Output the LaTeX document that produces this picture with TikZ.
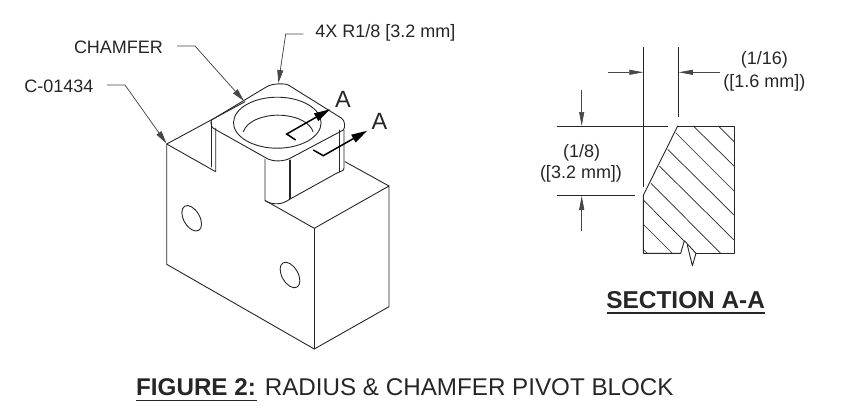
\documentclass[tikz,border=0pt]{standalone}
\usepackage{fontspec}
\setmainfont{Liberation Sans}
\usetikzlibrary{arrows.meta}
\definecolor{ink}{HTML}{262626}
\tikzset{
  part/.style={draw=ink,line width=0.9pt,line join=round,line cap=round},
  thin part/.style={draw=ink,line width=0.7pt},
  leader/.style={draw=ink!85,line width=0.75pt,-{Triangle[length=13pt,width=6pt]}},
  dim/.style={draw=ink!85,line width=0.7pt,-{Triangle[length=14pt,width=5pt]}},
  cut/.style={draw=black,line width=1.5pt,-{Triangle[length=16pt,width=8.5pt]}},
  label/.style={font=\fontsize{18}{21}\selectfont,text=ink,inner sep=0pt},
  dimtext/.style={font=\fontsize{18}{21}\selectfont,text=ink,inner sep=0pt},
  big/.style={font=\fontsize{23.5}{26}\selectfont,text=ink,inner sep=0pt},
  rule/.style={draw=ink,line width=1.6pt}
}
\begin{document}
\begin{tikzpicture}[x=1pt,y=-1pt]
\useasboundingbox (0,0) rectangle (847,418);
% labels
\node[label] (chamfer) at (118.5,47) {CHAMFER};
\node[label] (part) at (59,86.5) {C-01434};
\node[label] (radius) at (385.3,33) {4X R1/8 [3.2 mm]};
\node[big] (a1) at (343,99) {A};
\node[big] (a2) at (379.5,121) {A};
% leaders
\coordinate (chamferA) at (177,46);
\coordinate (chamferB) at (195,46);
\coordinate (chamferT) at (244,101);
\coordinate (partA) at (107,85);
\coordinate (partB) at (125,85);
\coordinate (partT) at (166.5,143.5);
\coordinate (radA) at (303.3,34);
\coordinate (radB) at (285.7,34);
\coordinate (radT) at (278.4,83);
\draw[leader] (chamferA) -- (chamferB) -- (chamferT);
\draw[leader] (partA) -- (partB) -- (partT);
\draw[leader] (radA) -- (radB) -- (radT);
% block outline
\draw[part] (245,101.7) -- (166.7,144) -- (166.7,264.3) -- (314.3,349) -- (389,306.7) -- (389,186) -- (314.3,228.3) -- (265.5,200.7);
\draw[part] (314.3,228.3) -- (314.3,349);
\draw[part] (389,186) -- (345,161.7);
\draw[part] (166.7,144) -- (215.7,171.7) -- (215.7,128);
\draw[part] (211,122) -- (211,167);
% raised rounded top
\draw[part] (211.5,120) -- (266.7,86.7)
  .. controls (272,83.5) and (284,83) .. (288.3,85)
  -- (341.7,118.3)
  .. controls (345,120.5) and (345.5,127.5) .. (343.3,130)
  -- (290,158.3)
  .. controls (284,161.5) and (273,162) .. (266.7,158.3)
  -- (213.3,128.3)
  .. controls (211,126.5) and (210.5,122) .. (211.5,120);
% column
\draw[part] (265,159) -- (265,200.7) .. controls (272,205) and (282,205) .. (289.3,199.5) -- (337,173) .. controls (341,171) and (344,171) .. (344,168) -- (344,130);
\draw[part] (289.3,160) -- (289.3,199.5);
\draw[part] (290.6,160) -- (290.6,198.5);
\draw[part] (339.3,130) -- (339.3,172);
% bore
\draw[part] (277.3,122.7) ellipse [x radius=43.8pt,y radius=25.5pt];
\draw[part] (243.3,131.7) arc [start angle=170,end angle=10,x radius=35.4pt,y radius=20pt];
% holes
\draw[part,rotate around={-60:(191.7,218.3)}] (191.7,218.3) ellipse [x radius=14pt,y radius=8pt];
\draw[part,rotate around={-60:(290,275)}] (290,275) ellipse [x radius=14pt,y radius=8pt];
% cut arrows
\coordinate (c1a) at (295.7,140);
\coordinate (c1b) at (286.7,134);
\coordinate (c1t) at (330,109.3);
\coordinate (c2a) at (313.3,150);
\coordinate (c2b) at (323.3,155.7);
\coordinate (c2t) at (367.3,130.7);
\draw[cut] (c1a) -- (c1b) -- (c1t);
\draw[cut] (c2a) -- (c2b) -- (c2t);
% section
\draw[part] (677.7,126) -- (734,126) -- (734,253.3) -- (696,253.3);
\draw[part] (677.7,126) -- (643.3,195.3) -- (643.3,253.3) -- (680.7,253.3) -- (684.3,240.7) -- (696,253.3);
\draw[part] (687.3,245) -- (692.4,265.7) -- (696,253.3);
\begin{scope}[shift={(530,40)},x=0.33333pt,y=-0.33333pt]
\foreach \ax/\ay/\bx/\by in {565/258/612/305,490/258/612/378,437/278/612/453,413/328/612/525,388/378/612/600,363/430/572/640,340/480/462/603,340/553/427/640,340/628/352/640}
  \draw[thin part] (\ax,\ay) -- (\bx,\by);
\end{scope}
% dimensions
\coordinate (v1a) at (643.3,46.7);
\coordinate (v1b) at (643.3,186.7);
\coordinate (v2a) at (678.3,46.7);
\coordinate (v2b) at (678.3,117.3);
\coordinate (h1a) at (556.7,126);
\coordinate (h1b) at (668.3,126);
\coordinate (h2a) at (556.7,195.3);
\coordinate (h2b) at (635,195.3);
\draw[thin part] (v1a) -- (v1b);
\draw[thin part] (v2a) -- (v2b);
\draw[thin part] (h1a) -- (h1b);
\draw[thin part] (h2a) -- (h2b);
\coordinate (d1s) at (608.3,72.3);
\coordinate (d1t) at (643.3,72.3);
\coordinate (d2s) at (720,72.3);
\coordinate (d2t) at (678.8,72.3);
\coordinate (d3s) at (581.7,90);
\coordinate (d3t) at (581.7,126);
\coordinate (d4s) at (581.7,230.7);
\coordinate (d4t) at (581.7,195.8);
\draw[dim] (d1s) -- (d1t);
\draw[dim] (d2s) -- (d2t);
\draw[dim] (d3s) -- (d3t);
\draw[dim] (d4s) -- (d4t);
\node[dimtext] (t116) at (764.3,60) {(1/16)};
\node[dimtext] (t16mm) at (764.3,82.7) {([1.6 mm])};
\node[dimtext] (t18) at (581.7,152.7) {(1/8)};
\node[dimtext] (t32mm) at (581,174) {([3.2 mm])};
% titles
\node[label,font=\bfseries\fontsize{24.4}{27}\selectfont] (sect) at (685.7,300) {SECTION A-A};
\coordinate (su1) at (606.7,312.7);
\coordinate (su2) at (765,312.7);
\draw[rule] (su1) -- (su2);
\node[label,font=\fontsize{24.2}{27}\selectfont,anchor=west] (cap) at (136,387.5) {\textbf{FIGURE 2:} RADIUS \& CHAMFER PIVOT BLOCK};
\coordinate (cu1) at (136,400.5);
\coordinate (cu2) at (257,400.5);
\draw[rule] (cu1) -- (cu2);
\end{tikzpicture}
\end{document}
